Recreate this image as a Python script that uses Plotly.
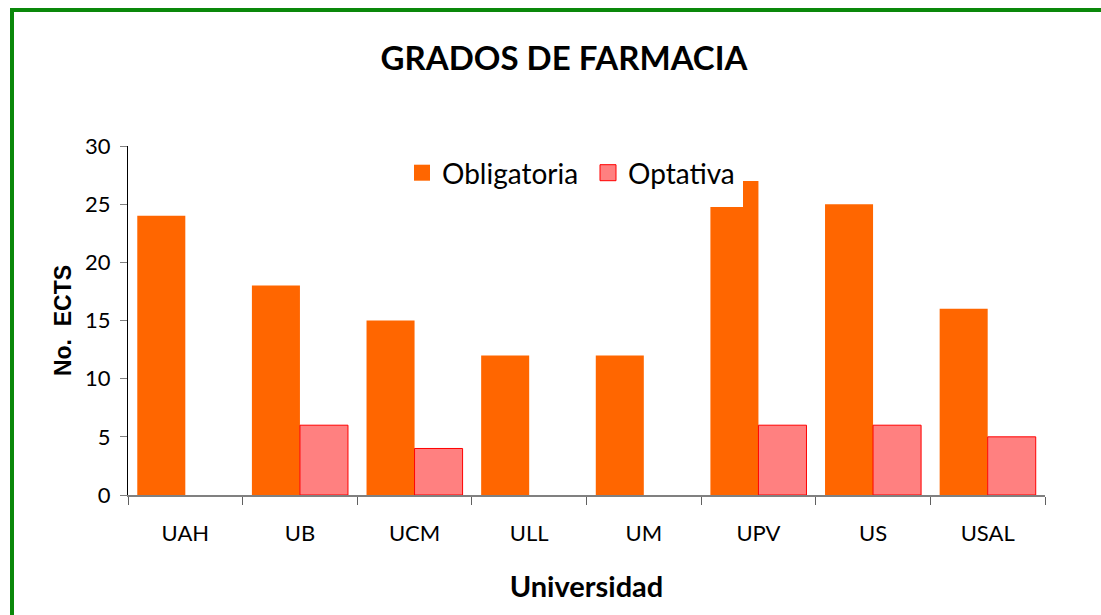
import plotly.graph_objects as go

categories = ["UAH", "UB", "UCM", "ULL", "UM", "UPV", "US", "USAL"]
obligatoria = [24, 18, 15, 12, 12, 27, 25, 16]
optativa = [None, 6, 4, None, None, 6, 6, 5]

title_text = "GRADOS DE FARMACIA"
x_title = "Universidad"
y_title = "No.  ECTS"

ORANGE = "#FF6600"
PINK = "#FF8080"
RED = "#FF0000"
GREEN = "#0A880A"

W, H = 1101, 615
L, R, T, B = 128, 56, 146, 120
pw, ph = W - L - R, H - T - B

def px_x(x):
    return (x - L) / pw

def px_y(y):
    return (H - B - y) / ph

fig = go.Figure()
fig.add_trace(go.Bar(x=categories, y=obligatoria, name="Obligatoria",
                     marker=dict(color=ORANGE, line=dict(width=0)), showlegend=False))
fig.add_trace(go.Bar(x=categories, y=optativa, name="Optativa",
                     marker=dict(color=PINK, line=dict(color=RED, width=1)), showlegend=False))
# legend entries
fig.add_trace(go.Scatter(x=[None], y=[None], mode="markers", name="Obligatoria",
                         marker=dict(symbol="square", size=16, color=ORANGE, line=dict(width=0))))
fig.add_trace(go.Scatter(x=[None], y=[None], mode="markers", name="Optativa",
                         marker=dict(symbol="square", size=16, color=PINK, line=dict(color=RED, width=1))))

shapes = [
    # legend background box (white) covering plot area
    dict(type="rect", xref="paper", yref="paper", layer="above",
         x0=px_x(400), x1=px_x(743), y0=px_y(207), y1=px_y(150),
         fillcolor="white", line=dict(width=0)),
    # green chart frame
    dict(type="rect", xref="paper", yref="paper", layer="above",
         x0=px_x(12), x1=px_x(1200), y0=px_y(700), y1=px_y(10),
         fillcolor="rgba(0,0,0,0)", line=dict(color=GREEN, width=4)),
]

fig.update_layout(
    width=W, height=H,
    margin=dict(l=L, r=R, t=T, b=B),
    paper_bgcolor="white", plot_bgcolor="white",
    barmode="group", bargap=0.162, bargroupgap=0,
    font=dict(family="Lato", size=22, color="black"),
    title=dict(text="<b>" + title_text + "</b>", x=564 / W, xanchor="center",
               y=1 - 58 / H, yanchor="middle", yref="container",
               font=dict(family="Lato", size=33, color="black")),
    legend=dict(orientation="h", x=px_x(402), xanchor="left", y=px_y(173), yanchor="middle",
                bgcolor="rgba(0,0,0,0)", font=dict(family="Lato", size=28, color="black"),
                entrywidth=141, entrywidthmode="pixels", itemclick=False),
    shapes=shapes,
    showlegend=True,
)

fig.update_xaxes(
    type="category", showgrid=False, zeroline=False,
    showline=True, linecolor="#808080", linewidth=2,
    ticks="outside", tickson="boundaries", ticklen=8, tickcolor="#606060", tickwidth=1,
    ticklabelstandoff=18,
    tickfont=dict(family="Lato", size=22),
    title=dict(text="<b>" + x_title + "</b>", font=dict(family="Lato", size=29), standoff=31),
)
fig.update_yaxes(
    range=[0, 30], dtick=5, showgrid=False, zeroline=False,
    showline=True, linecolor="black", linewidth=1,
    ticks="outside", ticklen=7, tickcolor="#808080", tickwidth=1,
    ticklabelstandoff=5,
    tickfont=dict(family="Lato", size=22),
    title=dict(text="<b>" + y_title + "</b>", font=dict(family="Liberation Sans", size=23), standoff=7),
)

fig.write_html("out.html", config={"displayModeBar": False},
               post_script="document.body.style.margin='0px';")
